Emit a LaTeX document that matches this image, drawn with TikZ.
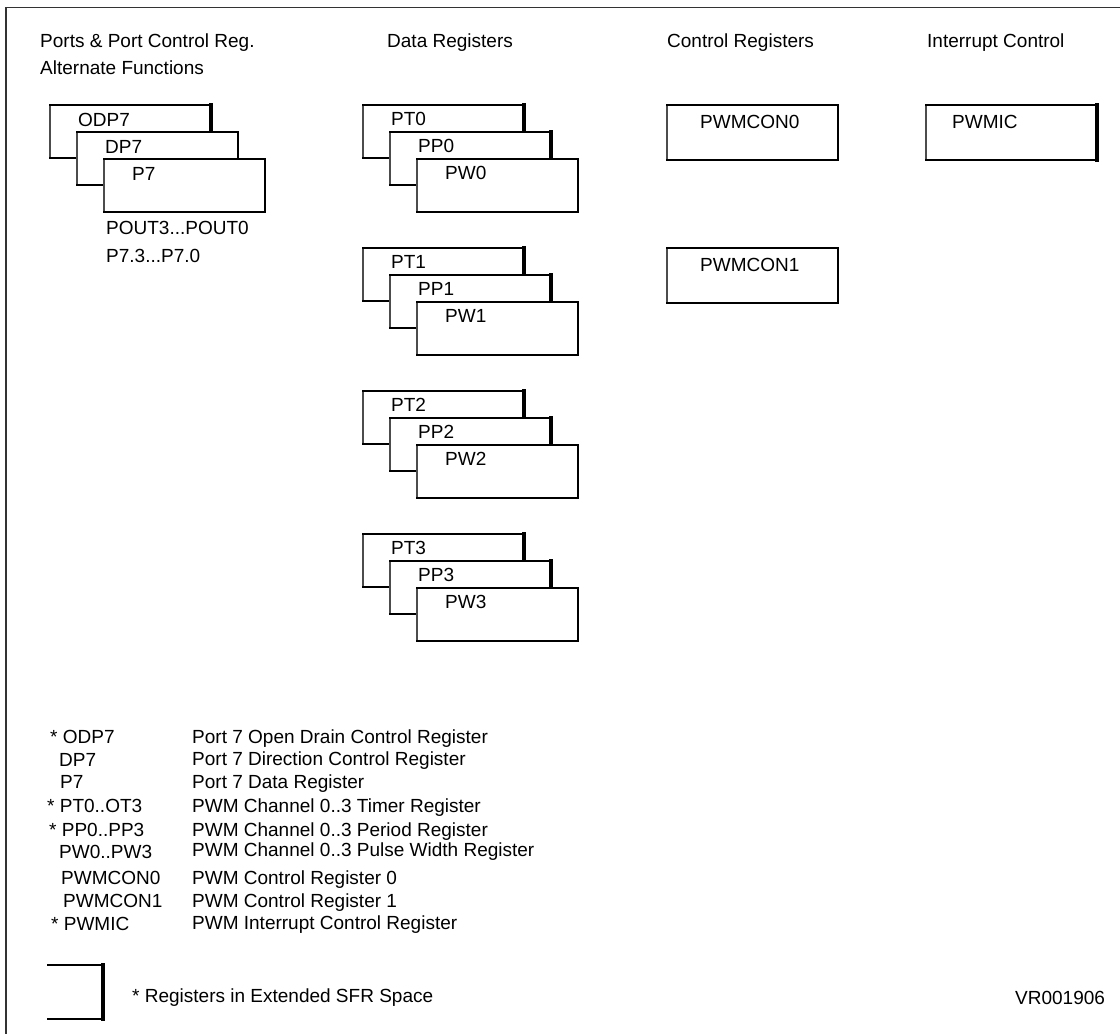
\documentclass[tikz,border=0pt]{standalone}
\usepackage{fontspec}
\setmainfont{Liberation Sans}
\usetikzlibrary{calc, positioning}

\tikzset{
  regbox/.style={fill=white, inner sep=0pt, outer sep=0pt, anchor=north west,
    minimum width=161pt, minimum height=53pt},
  ctlbox/.style={regbox, minimum width=171pt, minimum height=55pt},
  lbl/.style={inner sep=0pt, anchor=base west, font=\fontsize{19}{22}\selectfont},
  leftedge/.style={line width=1.3pt, draw=black!70, line cap=rect},
  topedge/.style={line width=1.5pt, line cap=rect},
  botedge/.style={line width=2pt, line cap=rect},
}

\begin{document}
\begin{tikzpicture}[x=1pt, y=-1pt]
\useasboundingbox (0,0) rectangle (1120,1034);
% frame
\coordinate (fbl) at (6,1034);
\coordinate (ftl) at (6,7.5);
\coordinate (ftr) at (1120,7.5);
\draw[line width=1.6pt, black!80] (fbl) -- (ftl) -- (ftr);

% column heads
\node[lbl] (hports) at (40,47) {Ports \& Port Control Reg.};
\node[lbl] (halt) at (40,74) {Alternate Functions};
\node[lbl] (hdata) at (387,47) {Data Registers};
\node[lbl] (hctl) at (667,47) {Control Registers};
\node[lbl] (hint) at (927,47) {Interrupt Control};

% port 7 registers
\foreach \n/\x/\y/\t/\w in {odp7/50/105/ODP7/3.5, dp7/77/132/DP7/2, p7/104/159/P7/2}
{
  \node[regbox] (\n) at (\x,\y) {};
  \draw[leftedge] (\n.north west) -- (\n.south west);
  \draw[topedge] (\n.north west) -- (\n.north east);
  \draw[botedge] (\n.south west) -- (\n.south east);
  \draw[line width=\w pt, line cap=rect] (\n.north east) -- (\n.south east);
  \node[lbl] (\n-txt) at ($(\n.north west)+(28,21)$) {\t};
}
\node[lbl] (pout) at ($(p7.south west)+(2,22)$) {POUT3...POUT0};
\node[lbl] (pbits) at ($(p7.south west)+(2,50)$) {P7.3...P7.0};

% PWM channel registers
\foreach \i in {0,...,3}
  \foreach \n/\t/\d/\w in {pt/PT/0/3.5, pp/PP/27/3.5, pw/PW/54/2}
  {
    \node[regbox] (\n\i) at ({363+\d},{105+143*\i+\d}) {};
    \draw[leftedge] (\n\i.north west) -- (\n\i.south west);
    \draw[topedge] (\n\i.north west) -- (\n\i.north east);
    \draw[botedge] (\n\i.south west) -- (\n\i.south east);
    \draw[line width=\w pt, line cap=rect] (\n\i.north east) -- (\n\i.south east);
    \node[lbl] (\n\i-txt) at ($(\n\i.north west)+(28,20)$) {\t\i};
  }

% control and interrupt registers
\foreach \n/\x/\y/\t/\w/\o in {pwmcon0/667/105/PWMCON0/2/33, pwmcon1/667/248/PWMCON1/2/33, pwmic/926/105/PWMIC/3.5/26}
{
  \node[ctlbox] (\n) at (\x,\y) {};
  \draw[leftedge] (\n.north west) -- (\n.south west);
  \draw[topedge] (\n.north west) -- (\n.north east);
  \draw[botedge] (\n.south west) -- (\n.south east);
  \draw[line width=\w pt, line cap=rect] (\n.north east) -- (\n.south east);
  \node[lbl] (\n-txt) at ($(\n.north west)+(\o,23)$) {\t};
}

% legend
\foreach \a/\xa/\ya/\b/\yb [count=\c] in {
  * ODP7/50/743/Port 7 Open Drain Control Register/743,
  DP7/59/766/Port 7 Direction Control Register/765,
  P7/60/788/Port 7 Data Register/788,
  * PT0..OT3/47/812/PWM Channel 0..3 Timer Register/812,
  * PP0..PP3/49/836/PWM Channel 0..3 Period Register/836,
  PW0..PW3/59/858/PWM Channel 0..3 Pulse Width Register/856,
  PWMCON0/61/884/PWM Control Register 0/884,
  PWMCON1/63/907/PWM Control Register 1/907,
  * PWMIC/51/930/PWM Interrupt Control Register/929}
{
  \node[lbl] (key\c) at (\xa,\ya) {\a};
  \node[lbl] (desc\c) at (192,\yb) {\b};
}

\coordinate (lgtl) at (48,965);
\coordinate (lgtr) at (103,965);
\coordinate (lgbr) at (103,1019);
\coordinate (lgbl) at (48,1019);
\draw[topedge] (lgtl) -- (lgtr);
\draw[botedge] (lgbl) -- (lgbr);
\draw[line width=3.5pt, line cap=rect] (lgtr) -- (lgbr);
\node[lbl] (extnote) at (132,1002) {* Registers in Extended SFR Space};
\node[lbl] (figid) at (1015,1004.5) {VR001906};
\end{tikzpicture}
\end{document}
